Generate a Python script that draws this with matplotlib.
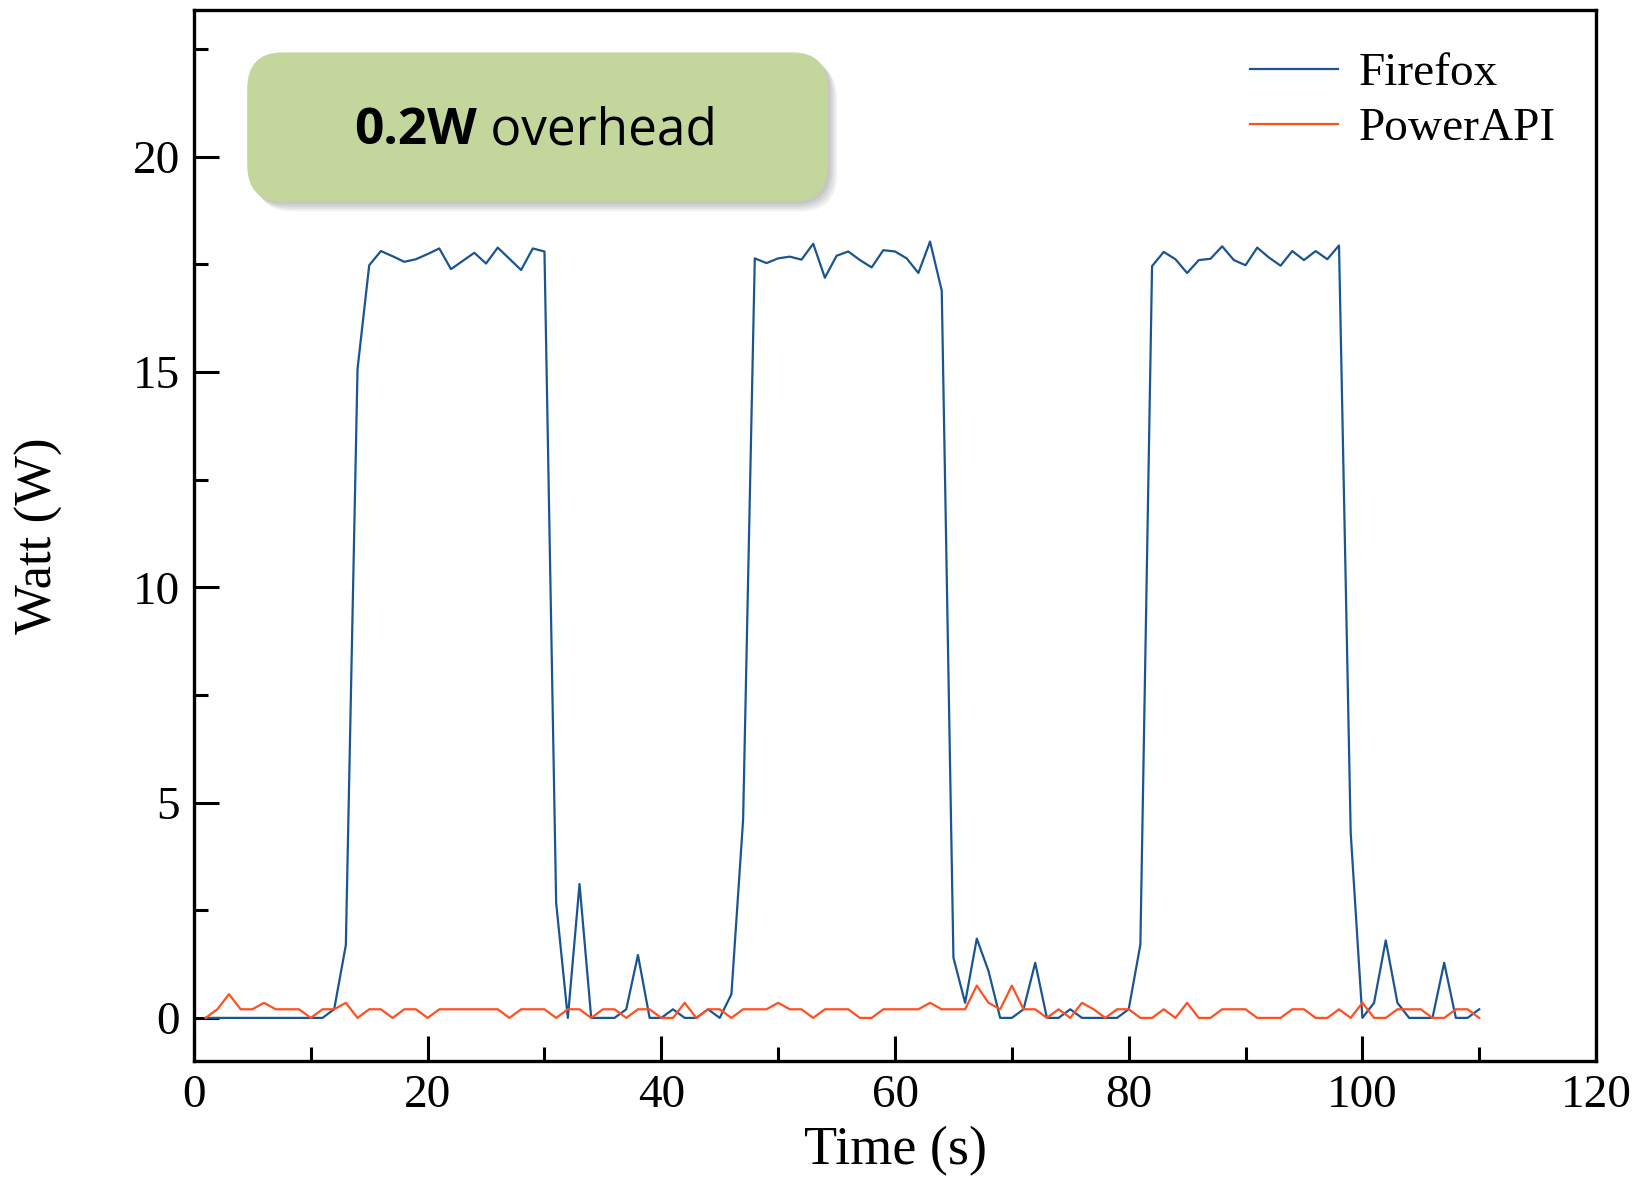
import numpy as np
import matplotlib
matplotlib.use('Agg')
import matplotlib.pyplot as plt
from matplotlib.patches import FancyBboxPatch
from matplotlib.ticker import MultipleLocator

# --- data (one sample per second) ---
time_s = np.arange(1, 111)

firefox = [
    0, 0, 0, 0, 0, 0, 0, 0, 0, 0,                                  # 1-10
    0, 0.2, 1.69, 15.07, 17.48, 17.81, 17.69, 17.56, 17.62, 17.74,  # 11-20
    17.87, 17.39, 17.58, 17.77, 17.52, 17.89, 17.63, 17.37, 17.87, 17.8,  # 21-30
    2.67, 0, 3.11, 0, 0, 0, 0.2, 1.46, 0, 0,                       # 31-40
    0.2, 0, 0, 0.2, 0, 0.55, 4.6, 17.64, 17.53, 17.64,              # 41-50
    17.68, 17.61, 17.98, 17.19, 17.7, 17.8, 17.6, 17.43, 17.83, 17.8,  # 51-60
    17.64, 17.3, 18.03, 16.89, 1.4, 0.35, 1.84, 1.09, 0, 0,         # 61-70
    0.2, 1.28, 0, 0, 0.2, 0, 0, 0, 0, 0.2,                          # 71-80
    1.7, 17.46, 17.79, 17.62, 17.3, 17.6, 17.63, 17.92, 17.6, 17.48,  # 81-90
    17.89, 17.66, 17.47, 17.81, 17.6, 17.81, 17.62, 17.94, 4.3, 0,  # 91-100
    0.35, 1.8, 0.35, 0, 0, 0, 1.28, 0, 0, 0.2,                      # 101-110
]

powerapi = [
    0, 0.2, 0.55, 0.2, 0.2, 0.35, 0.2, 0.2, 0.2, 0,                 # 1-10
    0.2, 0.2, 0.35, 0, 0.2, 0.2, 0, 0.2, 0.2, 0,                    # 11-20
    0.2, 0.2, 0.2, 0.2, 0.2, 0.2, 0, 0.2, 0.2, 0.2,                 # 21-30
    0, 0.2, 0.2, 0, 0.2, 0.2, 0, 0.2, 0.2, 0,                       # 31-40
    0, 0.35, 0, 0.2, 0.2, 0, 0.2, 0.2, 0.2, 0.35,                   # 41-50
    0.2, 0.2, 0, 0.2, 0.2, 0.2, 0, 0, 0.2, 0.2,                     # 51-60
    0.2, 0.2, 0.35, 0.2, 0.2, 0.2, 0.75, 0.35, 0.2, 0.75,           # 61-70
    0.2, 0.2, 0, 0.2, 0, 0.35, 0.2, 0, 0.2, 0.2,                    # 71-80
    0, 0, 0.2, 0, 0.35, 0, 0, 0.2, 0.2, 0.2,                        # 81-90
    0, 0, 0, 0.2, 0.2, 0, 0, 0.2, 0, 0.35,                          # 91-100
    0, 0, 0.2, 0.2, 0.2, 0, 0, 0.2, 0.2, 0,                         # 101-110
]

x_ticks = [0, 20, 40, 60, 80, 100, 120]
y_ticks = [0, 5, 10, 15, 20]
note_bold = "0.2W"
note_rest = " overhead"

serif = 'Liberation Serif'

fig = plt.figure(figsize=(16.38, 11.77), dpi=100)
ax = fig.add_axes([0.1184, 0.0986, 0.8560, 0.8926])

ax.plot(time_s, firefox, color='#1a5591', lw=1.6, label='Firefox')
ax.plot(time_s, powerapi, color='#ff5022', lw=1.6, label='PowerAPI')

ax.set_xlim(0, 120)
ax.set_ylim(-1, 23.4)
ax.set_xticks(x_ticks)
ax.set_yticks(y_ticks)
ax.xaxis.set_minor_locator(MultipleLocator(10))
ax.yaxis.set_minor_locator(MultipleLocator(2.5))
ax.tick_params(which='both', direction='in', top=False, right=False, width=2.2)
ax.tick_params(which='major', length=18, pad=10)
ax.tick_params(which='minor', length=10)
for lab in ax.get_xticklabels() + ax.get_yticklabels():
    lab.set_fontfamily(serif)
    lab.set_fontsize(34)
for sp in ax.spines.values():
    sp.set_linewidth(2.4)

ax.set_xlabel('Time (s)', fontfamily=serif, fontsize=39, labelpad=6)
ax.set_ylabel('Watt (W)', fontfamily=serif, fontsize=38, labelpad=50)

leg = ax.legend(loc='upper right', frameon=False, handlelength=1.85,
                prop={'family': serif, 'size': 34}, borderaxespad=0.0,
                bbox_to_anchor=(0.985, 0.978),
                labelspacing=0.25, handletextpad=0.45)

# --- annotation box with soft shadow ---
bx0, by0, bw, bh = 0.038, 0.818, 0.414, 0.142
for i in range(4):
    off = 0.002 + i * 0.0015
    sh = FancyBboxPatch((bx0 + off, by0 - off * 1.4), bw, bh,
                        boxstyle='round,pad=0,rounding_size=0.025',
                        transform=ax.transAxes, facecolor='black',
                        edgecolor='none', alpha=0.06, zorder=3,
                        mutation_aspect=1.4)
    ax.add_patch(sh)
box = FancyBboxPatch((bx0, by0), bw, bh,
                     boxstyle='round,pad=0,rounding_size=0.025',
                     transform=ax.transAxes, facecolor='#c3d69b',
                     edgecolor='none', zorder=4, mutation_aspect=1.4)
ax.add_patch(box)

t1 = ax.text(0.114, by0 + bh / 2 - 0.004, note_bold, transform=ax.transAxes,
             fontfamily='Open Sans', fontweight='bold', fontsize=37,
             va='center', ha='left', zorder=5)
ax.annotate(note_rest, xy=(1, 0), xycoords=t1, va='bottom', ha='left',
            fontfamily='Open Sans', fontsize=37, zorder=5)

fig.savefig('out.png', dpi=100)
